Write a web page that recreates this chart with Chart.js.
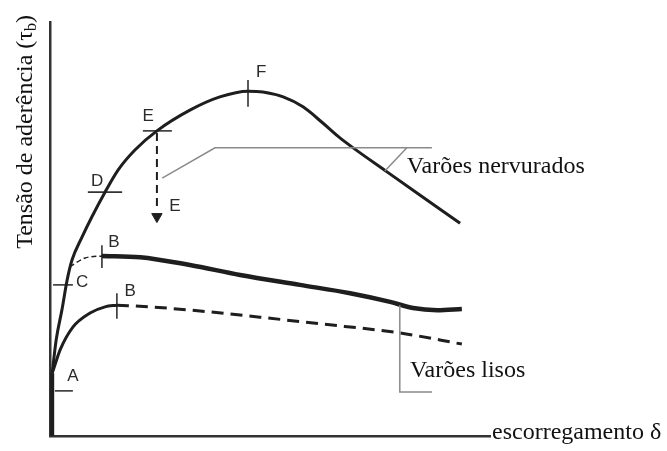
<!DOCTYPE html>
<html>
<head>
<meta charset="utf-8">
<script src="https://cdn.jsdelivr.net/npm/chart.js@4.4.1/dist/chart.umd.min.js"></script>
<style>
  html, body { margin: 0; background: #fff; }
  #wrap { width: 667px; height: 451px; }
</style>
</head>
<body>
<div id="wrap"><canvas id="bondChart"></canvas></div>
<script>
// slip (x) and bond stress (y), arbitrary units 0..10
const stemX = [0.05, 0.05]
const stemY = [0, 1.52]

const ribbedX = [0.05, 0.14, 0.27, 0.39, 0.50, 0.73, 0.95, 1.25, 1.55, 1.93, 2.43, 3.18, 3.86, 4.50, 4.84, 5.30, 5.75, 6.20, 6.59, 6.89, 7.66, 8.34, 8.93, 9.32]
const ribbedY = [1.52, 2.32, 3.04, 3.77, 4.25, 4.81, 5.29, 5.89, 6.43, 6.91, 7.37, 7.87, 8.19, 8.33, 8.31, 8.19, 7.95, 7.56, 7.20, 6.96, 6.38, 5.87, 5.43, 5.14]

const plainUpperStartX = [0.45, 0.80, 1.18]
const plainUpperStartY = [4.09, 4.30, 4.35]
const plainUpperX = [1.18, 2.05, 3.18, 4.32, 5.68, 6.82, 7.73, 8.25, 8.80, 9.36]
const plainUpperY = [4.35, 4.32, 4.13, 3.89, 3.65, 3.45, 3.24, 3.09, 3.04, 3.07]

const plainLowerX = [0.05, 0.11, 0.23, 0.52, 0.91, 1.25, 1.52]
const plainLowerY = [1.52, 1.71, 2.08, 2.63, 2.97, 3.12, 3.16]
const plainLowerTailX = [1.52, 2.27, 3.41, 4.77, 6.14, 7.95, 9.36]
const plainLowerTailY = [3.16, 3.12, 3.02, 2.87, 2.71, 2.49, 2.22]

// E -> E drop
const dropX = [2.43, 2.43]
const dropY = [7.32, 5.45]
const dropHeadY = 5.30

// stage marks A..F
const markX1 = [0.11, 0.07, 1.18, 1.52, 0.86, 2.11, 4.50]
const markY1 = [1.09, 3.65, 4.61, 3.45, 5.89, 7.37, 8.60]
const markX2 = [0.52, 0.52, 1.18, 1.52, 1.64, 2.77, 4.50]
const markY2 = [1.09, 3.65, 4.06, 2.83, 5.89, 7.37, 7.95]

const labelText = ['A', 'C', 'B', 'B', 'D', 'E', 'E', 'F']
const labelX = [0.52, 0.73, 1.45, 1.82, 1.07, 2.23, 2.84, 4.80]
const labelY = [1.43, 3.72, 4.69, 3.50, 6.16, 7.71, 5.56, 8.79]

// callout leaders
const leadRibX = [2.55, 3.75, 8.68]
const leadRibY = [6.23, 6.96, 6.96]
const leadRibTickX = [8.11, 7.61]
const leadRibTickY = [6.96, 6.40]
const leadPlainX = [7.95, 7.95, 8.68]
const leadPlainY = [3.16, 1.06, 1.06]

const noteText = ['Varões nervurados', 'Varões lisos']
const noteX = [8.11, 8.18]
const noteY = [6.50, 1.57]

const yTitle = 'Tensão de aderência (τ'
const yTitleSub = 'b'
const xTitle = 'escorregamento δ'

const INK = '#1e1e1e'
const GREY = '#8a8a8a'

const pts = (xs, ys) => xs.map((x, i) => ({ x, y: ys[i] }))

function line(xs, ys, extra) {
  return Object.assign({
    data: pts(xs, ys),
    showLine: true,
    borderColor: INK,
    borderWidth: 3,
    pointRadius: 0,
    fill: false,
    clip: false
  }, extra)
}

const datasets = [
  line(leadRibX, leadRibY, { borderColor: GREY, borderWidth: 1.5 }),
  line(leadRibTickX, leadRibTickY, { borderColor: GREY, borderWidth: 1.5 }),
  line(leadPlainX, leadPlainY, { borderColor: GREY, borderWidth: 1.5 }),
  line(stemX, stemY, { borderWidth: 4 }),
  line(ribbedX, ribbedY, { cubicInterpolationMode: 'monotone', borderWidth: 3 }),
  line(plainUpperStartX, plainUpperStartY, { cubicInterpolationMode: 'monotone', borderWidth: 1.5, borderDash: [5, 3] }),
  line(plainUpperX, plainUpperY, { cubicInterpolationMode: 'monotone', borderWidth: 4.5 }),
  line(plainLowerX, plainLowerY, { cubicInterpolationMode: 'monotone', borderWidth: 3 }),
  line(plainLowerTailX, plainLowerTailY, { cubicInterpolationMode: 'monotone', borderWidth: 3, borderDash: [12, 7] }),
  line(dropX, dropY, { borderWidth: 2, borderDash: [8, 5] }),
  {
    data: [{ x: dropX[0], y: dropHeadY }],
    pointStyle: 'triangle',
    rotation: 180,
    pointRadius: 6,
    backgroundColor: INK,
    borderColor: INK,
    borderWidth: 1,
    clip: false
  }
]

markX1.forEach((x, i) => {
  datasets.push(line([x, markX2[i]], [markY1[i], markY2[i]], { borderColor: '#333', borderWidth: 1.6 }))
})

const sketchText = {
  id: 'sketchText',
  afterDraw(chart) {
    const { ctx, chartArea } = chart
    const sx = chart.scales.x, sy = chart.scales.y
    ctx.save()

    ctx.fillStyle = '#2a2a2a'
    ctx.font = '17px "Liberation Sans", Arial, sans-serif'
    ctx.textAlign = 'center'
    ctx.textBaseline = 'middle'
    labelText.forEach((t, i) => {
      ctx.fillText(t, sx.getPixelForValue(labelX[i]), sy.getPixelForValue(labelY[i]))
    })

    ctx.fillStyle = '#111'
    ctx.font = '24px "Liberation Serif", "Times New Roman", serif'
    ctx.textAlign = 'left'
    noteText.forEach((t, i) => {
      ctx.fillText(t, sx.getPixelForValue(noteX[i]), sy.getPixelForValue(noteY[i]))
    })

    // axis caption sits past the end of the slip axis
    ctx.textBaseline = 'alphabetic'
    ctx.fillText(xTitle, chartArea.right + 2, chartArea.bottom + 3)

    // rotated stress caption with subscript b
    const mainFont = '24px "Liberation Serif", "Times New Roman", serif'
    const subFont = '16px "Liberation Serif", "Times New Roman", serif'
    ctx.font = mainFont
    const w1 = ctx.measureText(yTitle).width
    ctx.font = subFont
    const w2 = ctx.measureText(yTitleSub).width
    ctx.font = mainFont
    const w3 = ctx.measureText(')').width
    const total = w1 + w2 + w3
    ctx.translate(26, 15 + total)
    ctx.rotate(-Math.PI / 2)
    ctx.textBaseline = 'middle'
    ctx.fillText(yTitle, 0, 0)
    ctx.font = subFont
    ctx.fillText(yTitleSub, w1, 6)
    ctx.font = mainFont
    ctx.fillText(')', w1 + w2, 0)

    ctx.restore()
  }
}

const axisBase = {
  type: 'linear',
  min: 0,
  max: 10,
  grid: { display: false },
  ticks: { display: false },
  border: { display: true, color: '#333', width: 2.5 }
}

new Chart(document.getElementById('bondChart'), {
  type: 'scatter',
  data: { datasets },
  options: {
    responsive: true,
    maintainAspectRatio: false,
    animation: false,
    layout: { padding: { left: 50, top: 22, right: 177, bottom: 15 } },
    plugins: { legend: { display: false }, tooltip: { enabled: false } },
    scales: {
      x: Object.assign({}, axisBase, { position: 'bottom', afterFit: s => { s.height = 0 } }),
      y: Object.assign({}, axisBase, { position: 'left', afterFit: s => { s.width = 0 } })
    }
  },
  plugins: [sketchText]
})
</script>
</body>
</html>
